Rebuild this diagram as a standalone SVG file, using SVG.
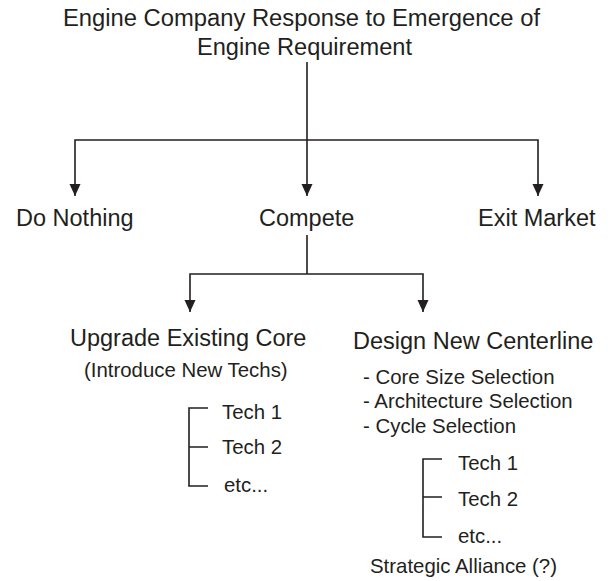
<svg xmlns="http://www.w3.org/2000/svg" width="610" height="581" viewBox="0 0 610 581">
  <style>
    text { font-family: "Liberation Sans", Arial, Helvetica, sans-serif; fill: #231f20; }
    .big { font-size: 23.5px; }
    .small { font-size: 20.4px; }
    .conn { fill: none; stroke: #231f20; stroke-width: 1.6; }
    .arrow { marker-end: url(#head); }
  </style>
  <defs>
    <marker id="head" markerUnits="userSpaceOnUse" markerWidth="12" markerHeight="12" refX="12" refY="6" orient="auto">
      <path d="M0,0.5 L12,6 L0,11.5 z" fill="#231f20"/>
    </marker>
  </defs>
  <rect width="610" height="581" fill="#ffffff"/>

  <g id="root">
    <text class="big" x="63" y="26" textLength="477" lengthAdjust="spacingAndGlyphs">Engine Company Response to Emergence of</text>
    <text class="big" x="197" y="55" textLength="215" lengthAdjust="spacingAndGlyphs">Engine Requirement</text>
  </g>

  <g id="do-nothing">
    <text class="big" x="16" y="226">Do Nothing</text>
  </g>

  <g id="compete">
    <text class="big" x="259" y="226">Compete</text>
  </g>

  <g id="exit-market">
    <text class="big" x="478" y="226">Exit Market</text>
  </g>

  <g id="upgrade-core">
    <text class="big" x="70" y="346">Upgrade Existing Core</text>
    <text class="small" x="84" y="377">(Introduce New Techs)</text>
    <path class="conn" d="M208,408 H189 V486 H208 M189,447 H208"/>
    <text class="small" x="222" y="419">Tech 1</text>
    <text class="small" x="222" y="454">Tech 2</text>
    <text class="small" x="224" y="492">etc...</text>
  </g>

  <g id="new-centerline">
    <text class="big" x="353" y="349">Design New Centerline</text>
    <text class="small" x="363" y="384">- Core Size Selection</text>
    <text class="small" x="363" y="408">- Architecture Selection</text>
    <text class="small" x="363" y="433">- Cycle Selection</text>
    <path class="conn" d="M442,459 H423 V537 H442 M423,497 H442"/>
    <text class="small" x="458" y="470">Tech 1</text>
    <text class="small" x="458" y="506">Tech 2</text>
    <text class="small" x="458" y="543">etc...</text>
    <text class="small" x="370" y="573">Strategic Alliance (?)</text>
  </g>

  <g id="connectors">
    <path class="conn arrow" d="M307,62 V196"/>
    <path class="conn arrow" d="M307,140 H75 V196"/>
    <path class="conn arrow" d="M307,140 H538 V196"/>
    <path class="conn" d="M307,235 V274"/>
    <path class="conn arrow" d="M307,274 H190 V312"/>
    <path class="conn arrow" d="M307,274 H423 V312"/>
  </g>
</svg>
